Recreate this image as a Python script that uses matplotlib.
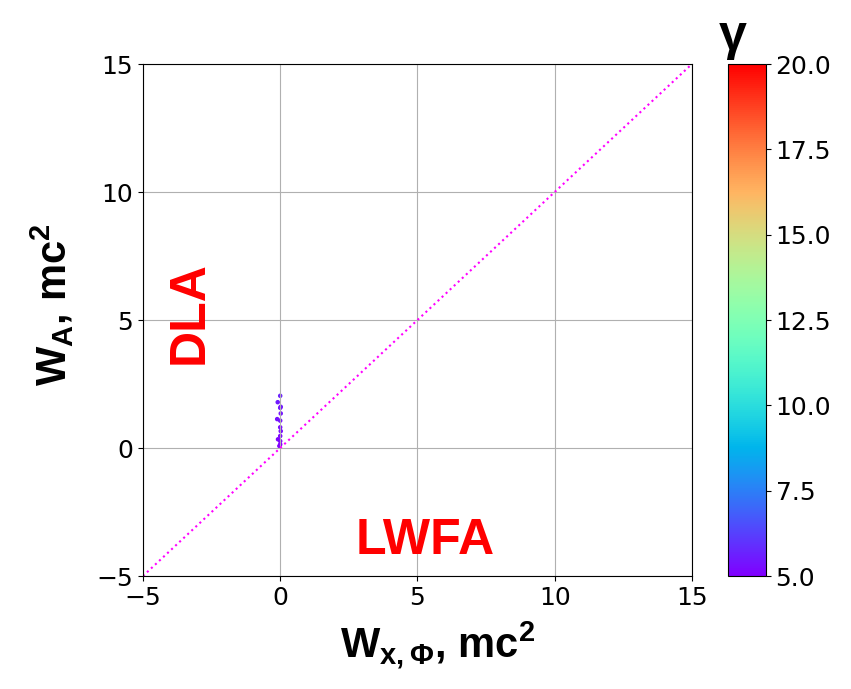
import numpy as np
import matplotlib
matplotlib.use('Agg')
import matplotlib.pyplot as plt

# Particle energies near the origin
w_xphi = [0.0, -0.09, 0.02, 0.0, 0.02, -0.11, 0.0, 0.0, 0.02, 0.0, -0.08, 0.0, 0.0, -0.03]
w_a = [2.04, 1.79, 1.61, 1.57, 1.35, 1.13, 1.07, 0.81, 0.66, 0.47, 0.34, 0.27, 0.14, 0.08]
gamma = [5.6, 5.5, 5.5, 5.4, 5.4, 5.3, 5.3, 5.2, 5.2, 5.1, 5.1, 5.1, 5.0, 5.0]
diag = [-5, 15]

plt.rcParams['mathtext.fontset'] = 'custom'
plt.rcParams['mathtext.bf'] = 'Liberation Sans:bold'
plt.rcParams['mathtext.rm'] = 'Liberation Sans'

fig = plt.figure(figsize=(8.51, 6.89), dpi=100)
ax = fig.add_axes([0.168, 0.164, 0.645, 0.743])
cax = fig.add_axes([0.856, 0.164, 0.044, 0.743])

ax.plot(diag, diag, ':', color='magenta', linewidth=1.5)
sc = ax.scatter(w_xphi, w_a, c=gamma, cmap='rainbow', vmin=5, vmax=20, s=5)

ax.set_xlim(-5, 15)
ax.set_ylim(-5, 15)
ax.set_xticks([-5, 0, 5, 10, 15])
ax.set_yticks([-5, 0, 5, 10, 15])
ax.tick_params(labelsize=18)
ax.grid(True)

ax.set_xlabel(r'$\mathbf{W_{x,\Phi}}$, $\mathbf{mc^2}$', fontsize=30,
              fontweight='bold', family='Liberation Sans', va='center')
ax.xaxis.set_label_coords(0.537, -0.135)
ax.set_ylabel(r'$\mathbf{W_{A}}$, $\mathbf{mc^2}$', fontsize=30,
              fontweight='bold', family='Liberation Sans', va='center')
ax.yaxis.set_label_coords(-0.165, 0.53)

ax.text(-3.3, 5.3, 'DLA', color='red', fontsize=36, fontweight='bold',
        family='Liberation Sans', rotation=90, ha='center', va='center')
ax.text(5.3, -3.65, 'LWFA', color='red', fontsize=36, fontweight='bold',
        family='Liberation Sans', ha='center', va='center')

cb = fig.colorbar(sc, cax=cax)
cb.set_ticks([5.0, 7.5, 10.0, 12.5, 15.0, 17.5, 20.0])
cb.ax.tick_params(labelsize=18)
fig.text(733 / 851, 1 - 37 / 689, 'γ', fontsize=36, fontweight='bold',
         family='Liberation Sans', ha='center', va='center')

fig.savefig('out.png', dpi=100)
